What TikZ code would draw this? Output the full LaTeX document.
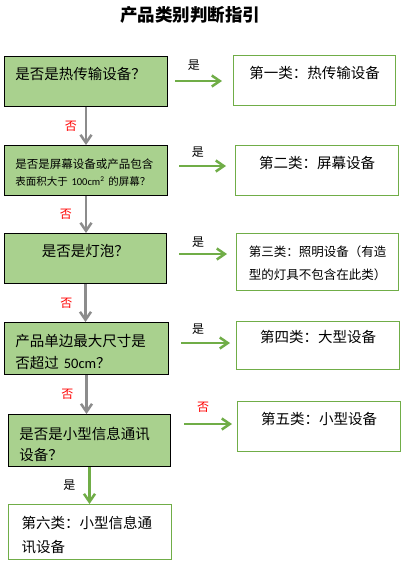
\documentclass[tikz,border=0pt]{standalone}
\usepackage{fontspec}
\setmainfont{Noto Sans CJK SC}
\newfontfamily\latin{Carlito}
\usetikzlibrary{arrows.meta,calc}

\definecolor{qgreen}{HTML}{A9D18E}
\definecolor{cgreen}{HTML}{70AD47}
\definecolor{agray}{HTML}{8C8C8C}

\tikzstyle{qbox} = [draw=black, line width=1pt, fill=qgreen, anchor=north west, inner xsep=11pt, inner ysep=0pt, align=left, font=\fontsize{14.5}{22}\selectfont]
\tikzstyle{cbox} = [draw=cgreen, line width=1.3pt, fill=white, anchor=north west, inner xsep=8pt, inner ysep=0pt, align=center, font=\fontsize{14.5}{22}\selectfont]
\tikzstyle{yesarrow} = [draw=cgreen, line width=2.5pt, -{Straight Barb[length=8pt,width=11pt]}]
\tikzstyle{noarrow} = [draw=agray, line width=2.5pt, -{Straight Barb[length=8pt,width=11pt]}]
\tikzstyle{lbl} = [inner sep=1pt, font=\fontsize{12}{12}\selectfont]
\tikzstyle{nolbl} = [lbl, text=red]

\begin{document}
\begin{tikzpicture}[x=1pt, y=-1pt]
\useasboundingbox[fill=white] (0,0) rectangle (404,565);
\node[font=\fontsize{17.5}{20}\selectfont\bfseries] (title) at (190,15) {产品类别判断指引};

\node[qbox, text width=141pt, text height=22.5pt, text depth=27.5pt] (q1) at (4,56) {是否是热传输设备？};
\node[qbox, text width=145pt, inner xsep=9pt, text height=22.5pt, text depth=27.5pt, font=\fontsize{11.5}{17}\selectfont] (q2) at (4,145) {\,是否是屏幕设备或产品包含\\{\fontsize{10.5}{17}\selectfont\,表面积大于 {\latin 100cm\textsuperscript{2}} 的屏幕？}};
\node[qbox, align=center, text width=140pt, text height=22.5pt, text depth=27.5pt] (q3) at (4,233) {是否是灯泡？};
\node[qbox, text width=142pt, text height=23.5pt, text depth=28.5pt] (q4) at (4,322) {产品单边最大尺寸是\\否超过 {\latin 50cm}？};
\node[qbox, text width=140pt, text height=24.5pt, text depth=27.5pt, font=\fontsize{14.5}{21}\selectfont] (q5) at (8,414) {是否是小型信息通讯\\设备？};

\node[cbox, text width=146pt, text height=22.5pt, text depth=27.5pt] (c1) at (233,55) {第一类：热传输设备};
\node[cbox, text width=147pt, text height=23pt, text depth=27pt] (c2) at (235,145) {第二类：屏幕设备};
\node[cbox, text width=146pt, text height=23pt, text depth=34pt, font=\fontsize{12.5}{23}\selectfont] (c3) at (236,233) {第三类：照明设备（有造\\型的灯具不包含在此类）};
\node[cbox, text width=147pt, text height=20.5pt, text depth=27.5pt] (c4) at (236,321) {第四类：大型设备};
\node[cbox, text width=147pt, text height=22.5pt, text depth=27.5pt] (c5) at (237,401) {第五类：小型设备};
\node[cbox, align=left, inner xsep=13pt, text width=137pt, text height=23.5pt, text depth=31.5pt, font=\fontsize{14.5}{24}\selectfont] (c6) at (8,504) {第六类：小型信息通\\讯设备};

\coordinate (s1) at ($(q1.north east)+(7,25)$);
\coordinate (s2) at ($(q2.north east)+(11,21)$);
\coordinate (s3) at ($(q3.north east)+(12,21)$);
\coordinate (s4) at ($(q4.north east)+(12,21)$);
\coordinate (s5) at ($(q5.north east)+(13,10)$);

\draw[yesarrow] (s1) -- node[lbl, above=8pt, pos=.4] (l1) {是} ($(s1 -| c1.west)+(-11,0)$);
\draw[yesarrow] (s2) -- node[lbl, above=6pt, pos=.4] (l2) {是} ($(s2 -| c2.west)+(-9,0)$);
\draw[yesarrow] (s3) -- node[lbl, above=4pt, pos=.4] (l3) {是} ($(s3 -| c3.west)+(-9,0)$);
\draw[yesarrow] (s4) -- node[lbl, above=6pt, pos=.35] (l4) {是} ($(s4 -| c4.west)+(-6,0)$);
\draw[yesarrow] (s5) -- node[nolbl, above=9pt, pos=.4] (l5) {否} ($(s5 -| c5.west)+(-5,0)$);

\draw[noarrow] (q1.south) -- node[nolbl, left=7pt] (n1) {否} (q1.south |- q2.north);
\draw[noarrow] (q2.south) -- node[nolbl, left=12pt] (n2) {否} (q2.south |- q3.north);
\draw[noarrow] (q3.south) -- node[nolbl, left=11pt] (n3) {否} (q3.south |- q4.north);
\draw[noarrow] (q4.south) -- node[nolbl, left=11pt] (n4) {否} (q4.south |- q5.north);
\draw[yesarrow] (q5.south) -- node[lbl, left=12pt] (l6) {是} (q5.south |- c6.north);
\end{tikzpicture}
\end{document}
